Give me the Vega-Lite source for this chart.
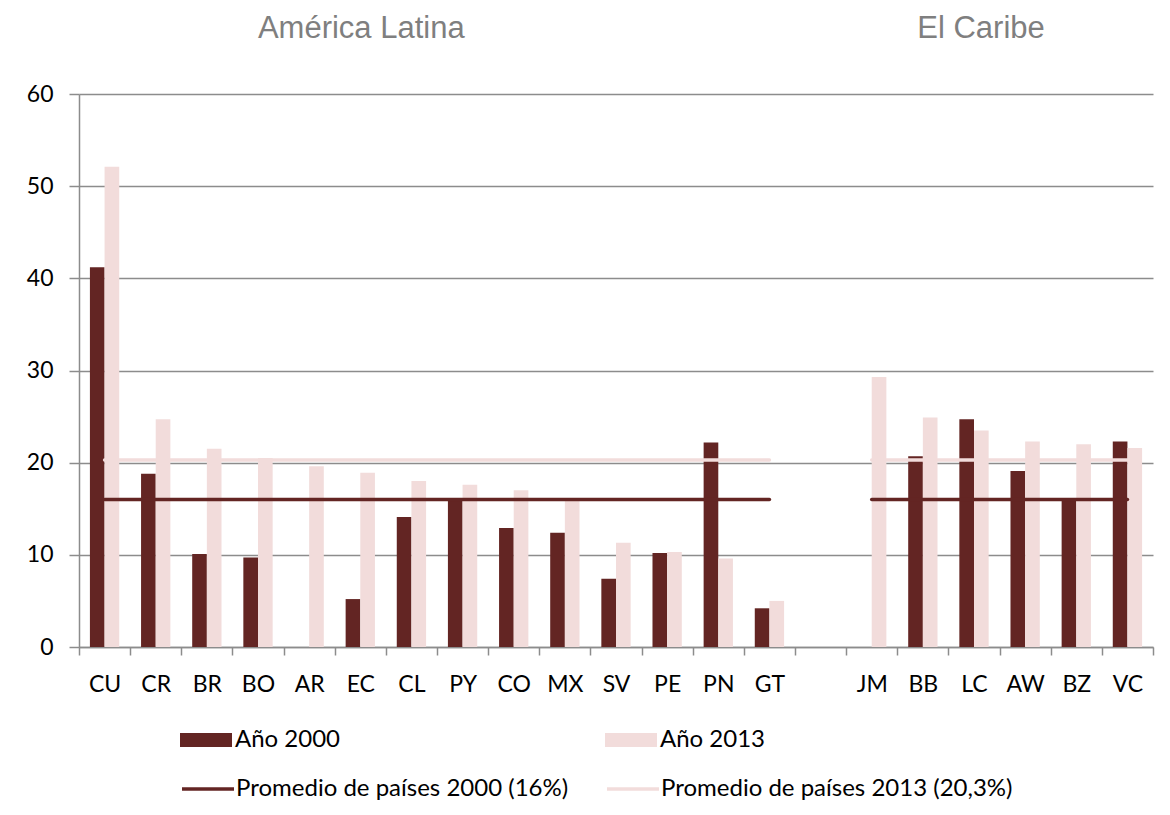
{
  "$schema": "https://vega.github.io/schema/vega-lite/v6.json",
  "autosize": {"type": "none"},
  "padding": {"left": 79, "top": 94, "right": 17, "bottom": 168},
  "width": 1074,
  "height": 553,
  "background": "#ffffff",
  "config": {
    "view": {"stroke": null},
    "axis": {
      "labelFont": "Lato",
      "labelFontSize": 23,
      "labelColor": "#000000",
      "domainColor": "#8c8c8c",
      "domainWidth": 1.5,
      "tickColor": "#8c8c8c",
      "tickWidth": 1.5,
      "gridColor": "#8c8c8c",
      "gridWidth": 1.5,
      "title": null
    }
  },
  "datasets": {
    "bars": [
      {"country": "CU", "serie": "Año 2000", "value": 41.2},
      {"country": "CU", "serie": "Año 2013", "value": 52.1},
      {"country": "CR", "serie": "Año 2000", "value": 18.8},
      {"country": "CR", "serie": "Año 2013", "value": 24.7},
      {"country": "BR", "serie": "Año 2000", "value": 10.1},
      {"country": "BR", "serie": "Año 2013", "value": 21.5},
      {"country": "BO", "serie": "Año 2000", "value": 9.7},
      {"country": "BO", "serie": "Año 2013", "value": 20.5},
      {"country": "AR", "serie": "Año 2013", "value": 19.6},
      {"country": "EC", "serie": "Año 2000", "value": 5.2},
      {"country": "EC", "serie": "Año 2013", "value": 18.9},
      {"country": "CL", "serie": "Año 2000", "value": 14.1},
      {"country": "CL", "serie": "Año 2013", "value": 18.0},
      {"country": "PY", "serie": "Año 2000", "value": 16.1},
      {"country": "PY", "serie": "Año 2013", "value": 17.6},
      {"country": "CO", "serie": "Año 2000", "value": 12.9},
      {"country": "CO", "serie": "Año 2013", "value": 17.0},
      {"country": "MX", "serie": "Año 2000", "value": 12.4},
      {"country": "MX", "serie": "Año 2013", "value": 16.0},
      {"country": "SV", "serie": "Año 2000", "value": 7.4},
      {"country": "SV", "serie": "Año 2013", "value": 11.3},
      {"country": "PE", "serie": "Año 2000", "value": 10.2},
      {"country": "PE", "serie": "Año 2013", "value": 10.3},
      {"country": "PN", "serie": "Año 2000", "value": 22.2},
      {"country": "PN", "serie": "Año 2013", "value": 9.6},
      {"country": "GT", "serie": "Año 2000", "value": 4.2},
      {"country": "GT", "serie": "Año 2013", "value": 5.0},
      {"country": "JM", "serie": "Año 2013", "value": 29.3},
      {"country": "BB", "serie": "Año 2000", "value": 20.7},
      {"country": "BB", "serie": "Año 2013", "value": 24.9},
      {"country": "LC", "serie": "Año 2000", "value": 24.7},
      {"country": "LC", "serie": "Año 2013", "value": 23.5},
      {"country": "AW", "serie": "Año 2000", "value": 19.1},
      {"country": "AW", "serie": "Año 2013", "value": 22.3},
      {"country": "BZ", "serie": "Año 2000", "value": 16.0},
      {"country": "BZ", "serie": "Año 2013", "value": 22.0},
      {"country": "VC", "serie": "Año 2000", "value": 22.3},
      {"country": "VC", "serie": "Año 2013", "value": 21.6}
    ],
    "averages": [
      {"country": "CU", "region": "América Latina", "serie": "Promedio de países 2013 (20,3%)", "value": 20.3},
      {"country": "GT", "region": "América Latina", "serie": "Promedio de países 2013 (20,3%)", "value": 20.3},
      {"country": "JM", "region": "El Caribe", "serie": "Promedio de países 2013 (20,3%)", "value": 20.3},
      {"country": "VC", "region": "El Caribe", "serie": "Promedio de países 2013 (20,3%)", "value": 20.3},
      {"country": "CU", "region": "América Latina", "serie": "Promedio de países 2000 (16%)", "value": 16},
      {"country": "GT", "region": "América Latina", "serie": "Promedio de países 2000 (16%)", "value": 16},
      {"country": "JM", "region": "El Caribe", "serie": "Promedio de países 2000 (16%)", "value": 16},
      {"country": "VC", "region": "El Caribe", "serie": "Promedio de países 2000 (16%)", "value": 16}
    ]
  },
  "encoding": {
    "x": {
      "field": "country",
      "type": "nominal",
      "scale": {
        "domain": ["CU", "CR", "BR", "BO", "AR", "EC", "CL", "PY", "CO", "MX", "SV", "PE", "PN", "GT", " ", "JM", "BB", "LC", "AW", "BZ", "VC"],
        "paddingInner": 0,
        "paddingOuter": 0
      },
      "axis": {
        "labelAngle": 0,
        "tickBand": "extent",
        "tickSize": 8,
        "labelBaseline": "alphabetic",
        "labelPadding": 36,
        "grid": false
      }
    }
  },
  "layer": [
    {
      "data": {"name": "bars"},
      "mark": {"type": "bar", "opacity": 1},
      "encoding": {
        "y": {
          "field": "value",
          "type": "quantitative",
          "scale": {"domain": [0, 60], "nice": false},
          "axis": {
            "values": [0, 10, 20, 30, 40, 50, 60],
            "tickSize": 10,
            "labelPadding": 16,
            "grid": true
          }
        },
        "xOffset": {
          "field": "serie",
          "type": "nominal",
          "scale": {"domain": ["Año 2000", "Año 2013"], "paddingInner": 0, "paddingOuter": 0.745}
        },
        "color": {
          "field": "serie",
          "type": "nominal",
          "scale": {"domain": ["Año 2000", "Año 2013"], "range": ["#632523", "#F2DCDB"]},
          "legend": {
            "orient": "none",
            "legendX": 101,
            "legendY": 633,
            "direction": "horizontal",
            "title": null,
            "columnPadding": 264,
            "symbolSize": 676,
            "symbolType": "M-1,-0.54H3V0.54H-1Z",
            "symbolStrokeWidth": 0,
            "symbolOpacity": 1,
            "labelFont": "Lato",
            "labelFontSize": 24,
            "labelColor": "#000000",
            "labelOffset": 29,
            "labelLimit": 500,
            "padding": 0
          }
        }
      }
    },
    {
      "data": {"name": "averages"},
      "mark": {"type": "line", "strokeWidth": 3.5, "strokeCap": "round", "opacity": 1},
      "encoding": {
        "y": {"field": "value", "type": "quantitative"},
        "detail": {"field": "region", "type": "nominal"},
        "stroke": {
          "field": "serie",
          "type": "nominal",
          "scale": {"domain": ["Promedio de países 2000 (16%)", "Promedio de países 2013 (20,3%)"], "range": ["#632523", "#F2DCDB"]},
          "legend": {
            "orient": "none",
            "legendX": 101,
            "legendY": 680,
            "direction": "horizontal",
            "title": null,
            "columnPadding": 31,
            "symbolSize": 676,
            "symbolType": "M-1,0H3",
            "symbolStrokeWidth": 3.5,
            "symbolFillColor": "transparent",
            "symbolOpacity": 1,
            "labelFont": "Lato",
            "labelFontSize": 24,
            "labelColor": "#000000",
            "labelOffset": 26,
            "labelLimit": 500,
            "padding": 0
          }
        }
      }
    },
    {
      "data": {"values": [{"label": "América Latina", "anchor": "EC"}]},
      "mark": {"type": "text", "font": "Liberation Sans", "fontSize": 31, "fill": "#7F7F7F", "align": "center", "baseline": "alphabetic", "dx": 1},
      "encoding": {
        "x": {"field": "anchor", "type": "nominal"},
        "y": {"datum": 66.04, "type": "quantitative"},
        "text": {"field": "label", "type": "nominal"}
      }
    },
    {
      "data": {"values": [{"label": "El Caribe", "anchor": "LC"}]},
      "mark": {"type": "text", "font": "Liberation Sans", "fontSize": 31, "fill": "#7F7F7F", "align": "center", "baseline": "alphabetic", "dx": 7},
      "encoding": {
        "x": {"field": "anchor", "type": "nominal"},
        "y": {"datum": 66.04, "type": "quantitative"},
        "text": {"field": "label", "type": "nominal"}
      }
    }
  ]
}
